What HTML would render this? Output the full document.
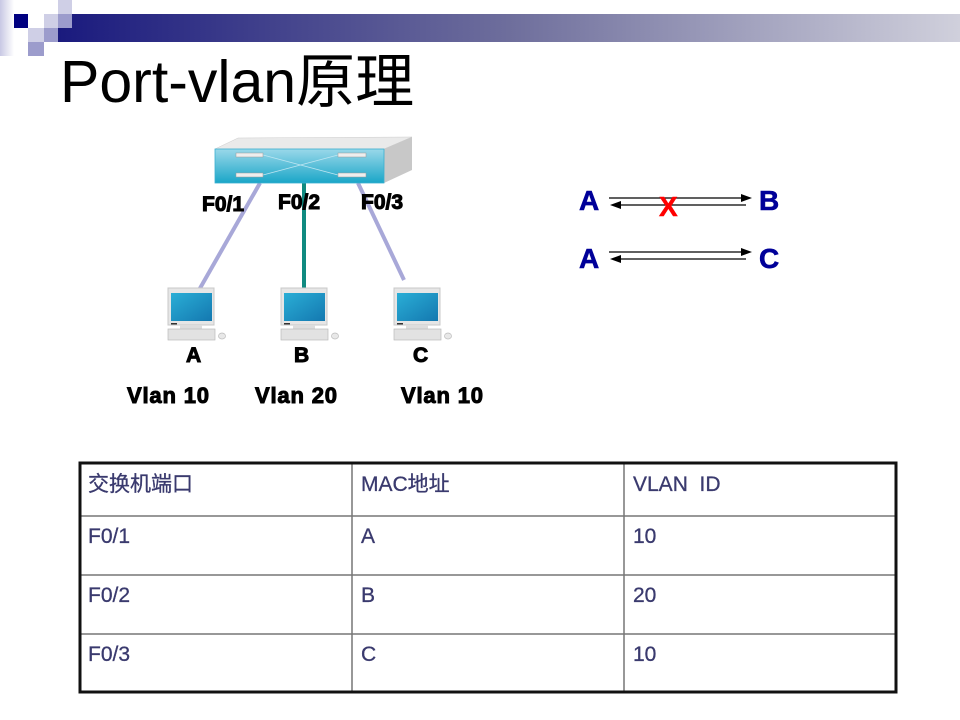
<!DOCTYPE html>
<html><head><meta charset="utf-8"><style>
html,body{margin:0;padding:0;background:#fff;}
svg{display:block;}
.b{font-family:"Liberation Sans",Arial,sans-serif;font-weight:bold;fill:#000;stroke:#000;stroke-width:1;}
.bl{font-family:"Liberation Sans",Arial,sans-serif;font-weight:bold;fill:#000099;stroke:#000099;stroke-width:0.6;font-size:28px;}
.t{font-family:"Liberation Sans","Noto Sans CJK SC",sans-serif;fill:#3a3a6e;stroke:#3a3a6e;stroke-width:0.3;font-size:21px;}
</style></head><body>
<svg width="960" height="720" viewBox="0 0 960 720" xmlns="http://www.w3.org/2000/svg">
<defs>
<linearGradient id="bar" x1="0" x2="1" y1="0" y2="0">
<stop offset="0" stop-color="#1a1a7e"/><stop offset="0.5" stop-color="#6e6e9c"/><stop offset="1" stop-color="#d0d0dc"/>
</linearGradient>
<linearGradient id="lc" x1="0" x2="1"><stop offset="0" stop-color="#c8c8e4"/><stop offset="1" stop-color="#fff"/></linearGradient>
<linearGradient id="front" x1="0" x2="0" y1="0" y2="1">
<stop offset="0" stop-color="#9ad8ea"/><stop offset="1" stop-color="#1aa6c8"/></linearGradient>
<linearGradient id="scr" x1="0" x2="1" y1="0" y2="1">
<stop offset="0" stop-color="#2aaed6"/><stop offset="1" stop-color="#1478b0"/></linearGradient>
<g id="pc">
<rect x="0" y="0" width="46" height="37" fill="#e6e6e6" stroke="#c8c8c8"/>
<rect x="3" y="5" width="41" height="28" fill="url(#scr)"/>
<rect x="3" y="35" width="6" height="1.5" fill="#333"/>
<rect x="12" y="37" width="22" height="4" fill="#ddd"/>
<rect x="0" y="41" width="47" height="11" fill="#e2e2e2" stroke="#bbb" stroke-width="0.7"/>
<ellipse cx="54" cy="48" rx="3.5" ry="3" fill="#e8e8e8" stroke="#bbb" stroke-width="0.7"/>
</g>
</defs>
<rect x="0" y="0" width="14" height="56" fill="url(#lc)"/>
<rect x="58" y="14" width="902" height="28" fill="url(#bar)"/>
<rect x="14" y="14" width="14" height="14" fill="#000080"/>
<rect x="58" y="0" width="14" height="14" fill="#cfcfe6"/>
<rect x="44" y="14" width="14" height="14" fill="#cfcfe6"/>
<rect x="58" y="14" width="14" height="14" fill="#9c9ccc"/>
<rect x="28" y="28" width="16" height="14" fill="#cfcfe6"/>
<rect x="44" y="28" width="14" height="14" fill="#9c9ccc"/>
<rect x="28" y="42" width="16" height="14" fill="#9c9ccc"/>
<text x="60" y="102" font-family="'Liberation Sans','Noto Sans CJK SC',sans-serif" font-size="59" fill="#000">Port-vlan原理</text>
<line x1="260" y1="183" x2="199" y2="290" stroke="#a8a8d8" stroke-width="4"/>
<line x1="304" y1="183" x2="304" y2="290" stroke="#108a80" stroke-width="4"/>
<line x1="358" y1="183" x2="404" y2="280" stroke="#a8a8d8" stroke-width="4"/>
<polygon points="215,149 238,138 412,137 384,149" fill="#eaeaea" stroke="#ccc" stroke-width="0.5"/>
<polygon points="384,149 412,137 412,170 384,183" fill="#c8c8c8"/>
<rect x="215" y="149" width="169" height="34" fill="url(#front)" stroke="#3ab0d0" stroke-width="0.8"/>
<line x1="263" y1="155" x2="338" y2="175" stroke="#bfe6f2" stroke-width="0.8"/>
<line x1="263" y1="175" x2="338" y2="155" stroke="#bfe6f2" stroke-width="0.8"/>
<rect x="236" y="153" width="27" height="4" fill="#eee" stroke="#999" stroke-width="0.5"/>
<rect x="236" y="173" width="27" height="4" fill="#eee" stroke="#999" stroke-width="0.5"/>
<rect x="338" y="153" width="28" height="4" fill="#eee" stroke="#999" stroke-width="0.5"/>
<rect x="338" y="173" width="28" height="4" fill="#eee" stroke="#999" stroke-width="0.5"/>
<text class="b" x="202" y="211" font-size="21">F0/1</text>
<text class="b" x="278" y="209" font-size="21">F0/2</text>
<text class="b" x="361" y="209" font-size="21">F0/3</text>
<use href="#pc" x="168" y="288"/>
<use href="#pc" x="281" y="288"/>
<use href="#pc" x="394" y="288"/>
<text class="b" x="186" y="362" font-size="21">A</text>
<text class="b" x="294" y="362" font-size="21">B</text>
<text class="b" x="413" y="362" font-size="21">C</text>
<text class="b" x="127" y="403" font-size="22" textLength="82">Vlan 10</text>
<text class="b" x="255" y="403" font-size="22" textLength="82">Vlan 20</text>
<text class="b" x="401" y="403" font-size="22" textLength="82">Vlan 10</text>
<text class="bl" x="579" y="210">A</text>
<text class="bl" x="759" y="210">B</text>
<text class="bl" x="579" y="268">A</text>
<text class="bl" x="759" y="268">C</text>
<g stroke="#000" stroke-width="1.3">
<line x1="609" y1="198" x2="742" y2="198"/><line x1="618" y1="205" x2="746" y2="205"/>
<line x1="609" y1="252" x2="742" y2="252"/><line x1="618" y1="259" x2="746" y2="259"/>
</g>
<polygon points="752,198 741,194 741,202" fill="#000"/>
<polygon points="610,205 621,201 621,209" fill="#000"/>
<polygon points="752,252 741,248 741,256" fill="#000"/>
<polygon points="610,259 621,255 621,263" fill="#000"/>
<text x="659" y="216" font-family="'Liberation Sans',sans-serif" font-weight="bold" font-size="28" fill="#ff0000" stroke="#ff0000" stroke-width="0.5">X</text>
<g stroke="#777" stroke-width="1.5">
<line x1="79" y1="516" x2="897" y2="516"/>
<line x1="79" y1="575" x2="897" y2="575"/>
<line x1="79" y1="634" x2="897" y2="634"/>
<line x1="352" y1="462" x2="352" y2="693"/>
<line x1="624" y1="462" x2="624" y2="693"/>
</g>
<rect x="80" y="463" width="816" height="229" fill="none" stroke="#111" stroke-width="3"/>
<text class="t" x="88" y="491" font-size="23">交换机端口</text>
<text class="t" x="361" y="491">MAC地址</text>
<text class="t" x="633" y="491">VLAN&#160;&#160;ID</text>
<text class="t" x="88" y="543">F0/1</text>
<text class="t" x="361" y="543">A</text>
<text class="t" x="633" y="543">10</text>
<text class="t" x="88" y="602">F0/2</text>
<text class="t" x="361" y="602">B</text>
<text class="t" x="633" y="602">20</text>
<text class="t" x="88" y="661">F0/3</text>
<text class="t" x="361" y="661">C</text>
<text class="t" x="633" y="661">10</text>
</svg>
</body></html>
